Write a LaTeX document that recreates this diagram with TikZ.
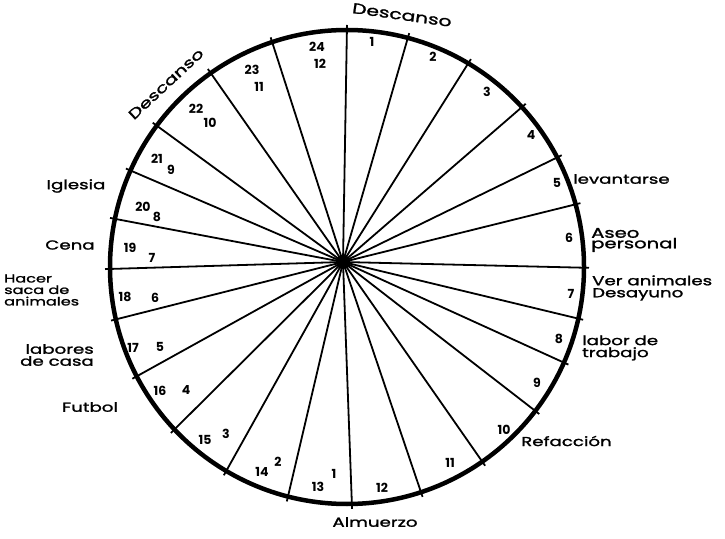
\documentclass[tikz,border=0pt]{standalone}
\usepackage{fontspec}
\newfontfamily\hand[FakeStretch=1.4,FakeBold=1.5]{Poppins}
\newfontfamily\numf{Poppins}
\usetikzlibrary{calc}
\tikzset{
  rim/.style={line width=4.5pt},
  spoke/.style={line width=1.8pt},
  lbl/.style={font=\hand\fontsize{13}{12}\selectfont, inner sep=0pt, align=left},
  small/.style={font=\hand\fontsize{11.5}{11.5}\selectfont, inner sep=0pt, align=left},
  num/.style={font=\numf\bfseries\fontsize{12.5}{12.5}\selectfont, inner sep=0pt},
}
\begin{document}
\begin{tikzpicture}[x=1pt,y=1pt]
\useasboundingbox (0,0) rectangle (725,538);
\fill[white] (0,0) rectangle (725,538);
\coordinate (C) at (347,271);
% spokes ends
\foreach \a [count=\i] in {90,75.1,59.2,42.4,27.5,15.3,-0.2,-12.6,-23.8,-37.4,-55.2,-71.8,-88.8,-104.4,-120.6,-136.7,-152.5,-167.2,-179.5,168.3,156,143.4,125.1,108.4}{
  \coordinate (t\i) at ($(C)+(\a:242)$);
}
\node[circle, fill=black, minimum size=14pt, inner sep=0pt] (hub) at (343,276) {};
\foreach \i in {1,...,24}{
  \draw[spoke] (hub.center) -- (t\i);
}
\draw[rim] (C) circle[radius=237];
% hour numbers right side
\node[num] (n1) at (372,496) {1};
\node[num] (n2) at (433,481) {2};
\node[num] (n3) at (487,446) {3};
\node[num] (n4) at (531,403) {4};
\node[num] (n5) at (557,355) {5};
\node[num] (n6) at (569,300) {6};
\node[num] (n7) at (571,244) {7};
\node[num] (n8) at (559,199) {8};
\node[num] (n9) at (537,155) {9};
\node[num] (n10) at (504,108) {10};
\node[num] (n11) at (450,75) {11};
\node[num] (n12) at (382,50) {12};
% left side
\node[num] (n13) at (318,51) {13};  \node[num] (m1) at (334,64) {1};
\node[num] (n14) at (262,66) {14};  \node[num] (m2) at (278,76) {2};
\node[num] (n15) at (205,98) {15};  \node[num] (m3) at (226,104) {3};
\node[num] (n16) at (160,147) {16}; \node[num] (m4) at (186,148) {4};
\node[num] (n17) at (133,190) {17}; \node[num] (m5) at (160,191) {5};
\node[num] (n18) at (125,241) {18}; \node[num] (m6) at (155,240) {6};
\node[num] (n19) at (130,290) {19}; \node[num] (m7) at (152,280) {7};
\node[num] (n20) at (143,331) {20}; \node[num] (m8) at (157,321) {8};
\node[num] (n21) at (157,379) {21}; \node[num] (m9) at (171,368) {9};
\node[num] (n22) at (196,429) {22}; \node[num] (m10) at (210,415) {10};
\node[num] (n23) at (252,468) {23}; \node[num] (m11) at (259,451) {11};
\node[num] (n24) at (317,491) {24}; \node[num] (m12) at (320,474) {12};
% activity labels
\node[lbl, rotate=-8, font=\hand\fontsize{14.5}{14}\selectfont] (desc1) at (402,523) {Descanso};
\node[lbl, rotate=43, font=\hand\fontsize{14}{14}\selectfont] (desc2) at (166,454) {Descanso};
\node[lbl] (igl) at (76,352) {Iglesia};
\node[lbl] (cena) at (70,293) {Cena};
\node[small, anchor=west] (hacer) at (4,248) {Hacer\\saca de\\animales};
\node[lbl, align=right, anchor=east] (labores) at (94,183) {labores\\de casa};
\node[lbl] (futbol) at (90,131) {Futbol};
\node[lbl] (alm) at (375,16) {Almuerzo};
\node[lbl, anchor=west] (refa) at (521,97) {Refacción};
\node[lbl, anchor=west] (labor) at (582,190) {labor de\\trabajo};
\node[lbl, anchor=west] (ver) at (592,250) {Ver animales\\Desayuno};
\node[lbl, anchor=west, font=\hand\fontsize{14}{10.5}\selectfont] (aseo) at (591,298) {Aseo\\personal};
\node[lbl, anchor=west] (lev) at (573,359) {levantarse};
\end{tikzpicture}
\end{document}
